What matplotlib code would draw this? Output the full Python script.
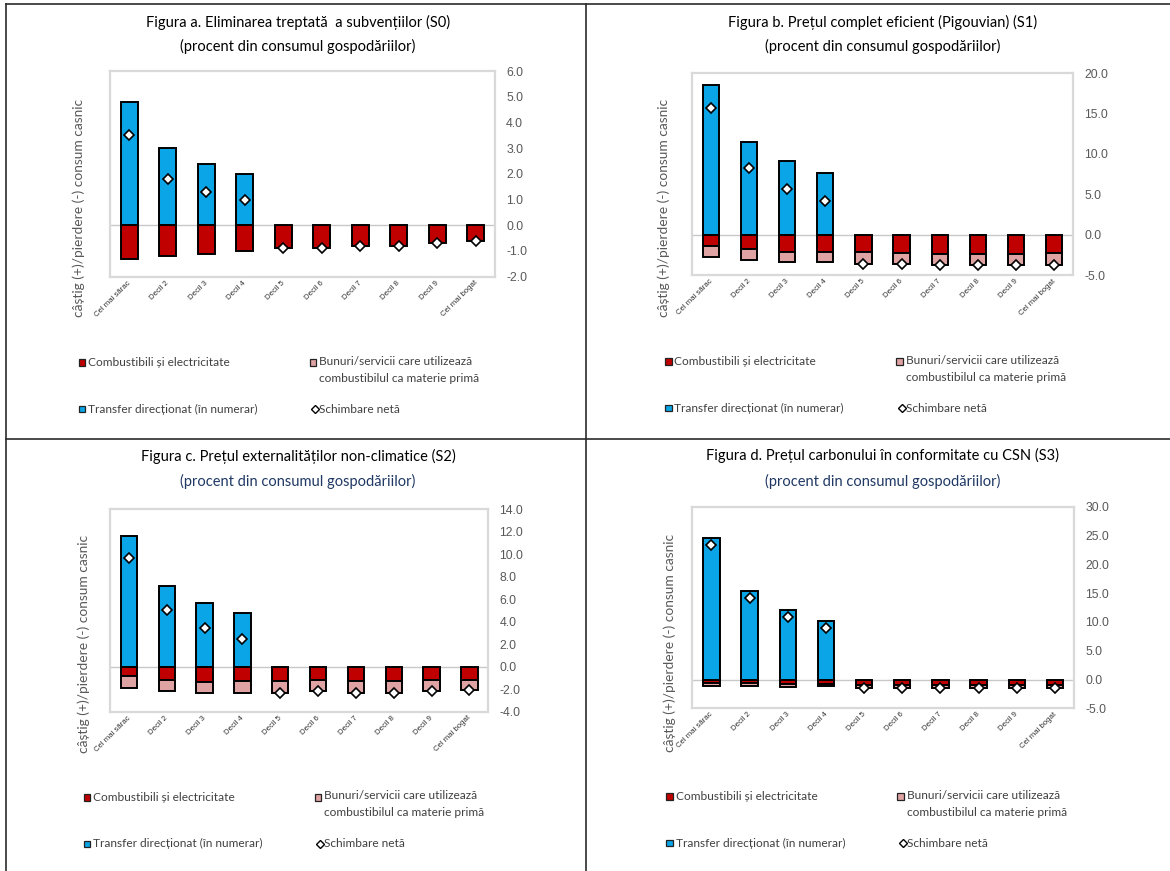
import matplotlib
matplotlib.use("Agg")
import matplotlib.pyplot as plt
import matplotlib.transforms as mtransforms
from matplotlib.lines import Line2D
from matplotlib.patches import Rectangle
from matplotlib.ticker import FormatStrFormatter, MultipleLocator
import numpy as np

plt.rcParams["axes.unicode_minus"] = False

W, H = 1170, 871

categories = ["Cel mai sărac", "Decil 2", "Decil 3", "Decil 4", "Decil 5",
              "Decil 6", "Decil 7", "Decil 8", "Decil 9", "Cel mai bogat"]

# S0 - subsidy phase-out
s0_transfer = [4.8, 3.0, 2.4, 2.0, 0, 0, 0, 0, 0, 0]
s0_fuel = [-1.3, -1.2, -1.1, -1.0, -0.9, -0.9, -0.8, -0.8, -0.7, -0.6]
s0_goods = [0, 0, 0, 0, 0, 0, 0, 0, 0, 0]
s0_net = [3.5, 1.8, 1.3, 1.0, -0.9, -0.9, -0.8, -0.8, -0.7, -0.6]

# S1 - full efficient (Pigouvian) pricing
s1_transfer = [18.5, 11.5, 9.1, 7.6, 0, 0, 0, 0, 0, 0]
s1_fuel = [-1.4, -1.8, -2.1, -2.1, -2.2, -2.3, -2.4, -2.4, -2.4, -2.3]
s1_goods = [-1.4, -1.4, -1.3, -1.3, -1.4, -1.3, -1.3, -1.3, -1.4, -1.4]
s1_net = [15.7, 8.3, 5.7, 4.2, -3.6, -3.6, -3.7, -3.7, -3.8, -3.7]

# S2 - non-climate externalities
s2_transfer = [11.6, 7.2, 5.7, 4.8, 0, 0, 0, 0, 0, 0]
s2_fuel = [-0.8, -1.2, -1.4, -1.3, -1.3, -1.2, -1.3, -1.3, -1.2, -1.2]
s2_goods = [-1.1, -1.0, -0.9, -1.0, -1.0, -1.0, -1.0, -1.0, -1.0, -0.9]
s2_net = [9.7, 5.0, 3.4, 2.5, -2.3, -2.2, -2.3, -2.3, -2.2, -2.1]

# S3 - carbon price consistent with the NDC
s3_transfer = [24.5, 15.4, 12.1, 10.2, 0, 0, 0, 0, 0, 0]
s3_fuel = [-0.6, -0.6, -0.7, -0.7, -0.9, -0.9, -0.9, -0.9, -0.9, -0.9]
s3_goods = [-0.5, -0.6, -0.6, -0.5, -0.5, -0.5, -0.5, -0.5, -0.5, -0.5]
s3_net = [23.4, 14.2, 10.8, 9.0, -1.4, -1.4, -1.4, -1.4, -1.4, -1.4]

titles = ["Figura a. Eliminarea treptată  a subvențiilor (S0)",
          "Figura b. Prețul complet eficient (Pigouvian) (S1)",
          "Figura c. Prețul externalităților non-climatice (S2)",
          "Figura d. Prețul carbonului în conformitate cu CSN (S3)"]
subtitle = "(procent din consumul gospodăriilor)"
ylabel = "câștig (+)/pierdere (-) consum casnic"
legend_labels = ["Combustibili și electricitate",
                 "Bunuri/servicii care utilizează\ncombustibilul ca materie primă",
                 "Transfer direcționat (în numerar)",
                 "Schimbare netă"]

BLUE = "#0AA5E6"
RED = "#C00000"
PINK = "#DFA3A3"
FRAME = "#D9D9D9"
TXT = "#404040"

fig = plt.figure(figsize=(W / 100, H / 100), dpi=100)
fig.patch.set_facecolor("white")


def fx(x):
    return x / W


def fy(y):
    return 1 - y / H


panels = [
    dict(data=(s0_transfer, s0_fuel, s0_goods, s0_net), box=(110, 71, 495, 276.7),
         ylim=(-2, 6), step=1, title_y=22, sub_y=46, cx=298, sub_color="black",
         ylab=(79, 208), leg=(82, 362.5)),
    dict(data=(s1_transfer, s1_fuel, s1_goods, s1_net), box=(691.7, 73.3, 1073.3, 275),
         ylim=(-5, 20), step=5, title_y=22, sub_y=46, cx=882.5, sub_color="black",
         ylab=(664, 208), leg=(668.5, 361.7)),
    dict(data=(s2_transfer, s2_fuel, s2_goods, s2_net), box=(110, 509.3, 488.3, 711.7),
         ylim=(-4, 14), step=2, title_y=456.5, sub_y=481.5, cx=298, sub_color="#1F3864",
         ylab=(84, 644), leg=(87, 797.3)),
    dict(data=(s3_transfer, s3_fuel, s3_goods, s3_net), box=(692.3, 506.7, 1074, 708.3),
         ylim=(-5, 30), step=5, title_y=455.5, sub_y=481, cx=883, sub_color="#1F3864",
         ylab=(670, 643), leg=(669.6, 796.7)),
]

x = np.arange(len(categories))
bw = 0.43
elw = 1.4

for i, p in enumerate(panels):
    x0, y0, x1, y1 = p["box"]
    ax = fig.add_axes([fx(x0), fy(y1), (x1 - x0) / W, (y1 - y0) / H])
    transfer, fuel, goods, net = [np.asarray(v, dtype=float) for v in p["data"]]

    m = transfer != 0
    ax.bar(x[m], transfer[m], bw, color=BLUE, edgecolor="black", linewidth=elw, zorder=3)
    m = fuel != 0
    ax.bar(x[m], fuel[m], bw, color=RED, edgecolor="black", linewidth=elw, zorder=3)
    m = goods != 0
    ax.bar(x[m], goods[m], bw, bottom=fuel[m], color=PINK, edgecolor="black",
           linewidth=elw, zorder=3)
    ax.plot(x, net, linestyle="none", marker="D", markersize=5.5, markerfacecolor="white",
            markeredgecolor="black", markeredgewidth=1.2, zorder=5)
    ax.axhline(0, color="#C8C8C8", linewidth=1.0, zorder=2)

    ax.set_xlim(-0.5, len(categories) - 0.5)
    ax.set_ylim(*p["ylim"])
    ax.yaxis.set_major_locator(MultipleLocator(p["step"]))
    ax.yaxis.set_major_formatter(FormatStrFormatter("%.1f"))
    ax.yaxis.tick_right()
    ax.tick_params(axis="y", length=0, pad=8, labelsize=8.8, labelcolor="#595959")
    for lab in ax.get_yticklabels():
        lab.set_fontfamily("Liberation Sans")
    ax.set_xticks(x)
    ax.set_xticklabels(categories, rotation=45, ha="right", fontsize=5.6,
                       color="#333333", family="Liberation Sans")
    ax.tick_params(axis="x", length=0, pad=2)
    shift = mtransforms.ScaledTranslation(3 / 100, 0, fig.dpi_scale_trans)
    for lab in ax.get_xticklabels():
        lab.set_transform(lab.get_transform() + shift)
    for sp in ax.spines.values():
        sp.set_color(FRAME)
        sp.set_linewidth(1.6)

    # titles
    fig.text(fx(p["cx"]), fy(p["title_y"]), titles[i], ha="center", va="center",
             fontsize=10.5, family="Lato", color="black")
    fig.text(fx(p["cx"]), fy(p["sub_y"]), subtitle, ha="center", va="center",
             fontsize=10.5, family="Lato", color=p["sub_color"])
    # y label
    fig.text(fx(p["ylab"][0]), fy(p["ylab"][1]), ylabel, rotation=90, ha="center",
             va="center", fontsize=9.9, family="Lato", color="#595959")

    # legend
    lx, ly = p["leg"]
    sq = 6.5
    dx2, dy2 = 231, 46.5
    items = [(lx, ly, RED, "sq"), (lx + dx2, ly, PINK, "sq"),
             (lx, ly + dy2, BLUE, "sq"), (lx + dx2 + 2, ly + dy2, None, "dm")]
    for (cxp, cyp, col, kind), lab in zip(items, legend_labels):
        if kind == "sq":
            fig.add_artist(Rectangle((fx(cxp - sq / 2), fy(cyp + sq / 2)), sq / W, sq / H,
                                     transform=fig.transFigure, facecolor=col,
                                     edgecolor="#222222", linewidth=0.9))
            tx = cxp + 6
        else:
            fig.add_artist(Line2D([fx(cxp)], [fy(cyp)], transform=fig.transFigure,
                                  marker="D", markersize=4, markerfacecolor="white",
                                  markeredgecolor="black", markeredgewidth=1.0,
                                  linestyle="none"))
            tx = cxp + 4
        if "\n" in lab:
            l1, l2 = lab.split("\n")
            fig.text(fx(tx), fy(cyp - 1.5), l1, ha="left", va="center", fontsize=8.6,
                     family="Lato", color=TXT)
            fig.text(fx(tx), fy(cyp + 15.5), l2, ha="left", va="center", fontsize=8.6,
                     family="Lato", color=TXT)
        else:
            fig.text(fx(tx), fy(cyp), lab, ha="left", va="center", fontsize=8.6,
                     family="Lato", color=TXT)

# table grid lines
grid_lines = [((6, 4), (W, 4)), ((6, 4), (6, H)), ((586, 4), (586, H)),
              ((6, 439.5), (W, 439.5))]
for (a, b) in grid_lines:
    fig.add_artist(Line2D([fx(a[0]), fx(b[0])], [fy(a[1]), fy(b[1])],
                          transform=fig.transFigure, color="#2b2b2b", linewidth=1.2))

fig.savefig("out.png", dpi=100, facecolor="white")
